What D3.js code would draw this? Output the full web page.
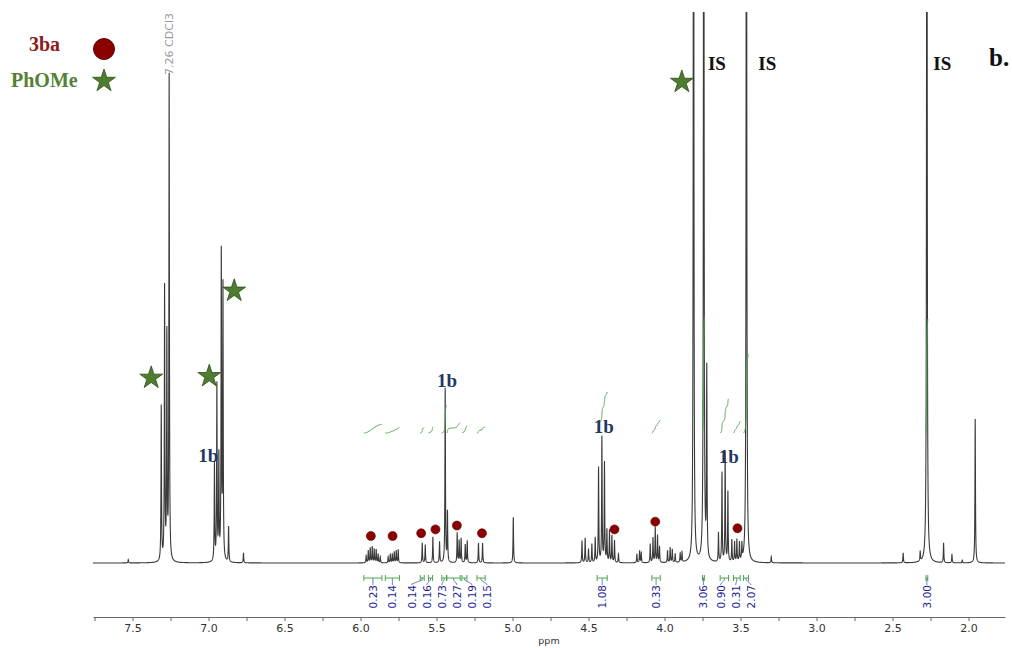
<!DOCTYPE html>
<html>
<head>
<meta charset="utf-8">
<script src="https://cdn.jsdelivr.net/npm/d3@7"></script>
<style>
  body { margin: 0; background: #fff; }
  svg { display: block; }
</style>
</head>
<body>
<svg id="chart" width="1012" height="648"></svg>
<script>
// 1H NMR spectrum (b.) - peak list
// heights: 100 = top of the plotting area (taller peaks are clipped)
const peakPpm = [
  7.528, 7.311, 7.289, 7.274, 7.259, 6.961, 6.945, 6.932, 6.916, 6.905, 6.868, 6.770,
  5.963, 5.949, 5.936, 5.923, 5.910, 5.897, 5.884, 5.870,
  5.818, 5.804, 5.791, 5.778, 5.765, 5.752,
  5.594, 5.574, 5.524, 5.480, 5.443, 5.428,
  5.364, 5.351, 5.338, 5.311, 5.298, 5.224, 5.197, 4.995,
  4.543, 4.522, 4.500, 4.478, 4.456, 4.434, 4.412, 4.395, 4.379, 4.362, 4.346, 4.329, 4.303,
  4.182, 4.164, 4.153, 4.094, 4.076, 4.061, 4.046, 4.033,
  3.980, 3.963, 3.949, 3.930, 3.897, 3.885,
  3.809, 3.742, 3.722,
  3.645, 3.622, 3.601, 3.583, 3.557, 3.539, 3.524, 3.507, 3.491, 3.461, 3.298,
  2.430, 2.318, 2.274, 2.164, 2.109, 2.041, 1.956
];
const peakHeight = [
  0.6, 28.1, 49.5, 40.5, 88.0, 17.6, 31.9, 18.7, 55.5, 49.5, 6.4, 1.8,
  1.3, 2.2, 2.7, 2.9, 2.5, 2.4, 1.6, 1.1,
  1.1, 1.6, 1.5, 2.0, 2.2, 2.4,
  3.6, 3.3, 4.7, 3.8, 31.6, 9.1,
  5.4, 4.0, 4.4, 3.3, 4.0, 3.6, 3.6, 8.3,
  4.0, 4.5, 2.5, 3.4, 4.5, 17.2, 22.7, 18.0, 5.8, 5.8, 4.9, 4.0, 1.6,
  1.6, 2.2, 1.8, 3.4, 4.5, 6.4, 4.9, 2.9,
  2.2, 2.7, 2.4, 1.6, 1.6, 1.8,
  220, 220, 34.0,
  5.3, 16.2, 20.0, 12.7, 4.0, 3.6, 4.0, 3.4, 2.9, 220, 1.1,
  1.8, 1.8, 220, 3.6, 1.5, 0.5, 26.1
];

// integrals: region limits (ppm) and printed values
const integralFrom = [5.978, 5.837, 5.607, 5.553, 5.465, 5.432, 5.333, 5.234, 4.443, 4.083, 3.750, 3.634, 3.546, 3.480, 2.280];
const integralTo   = [5.859, 5.744, 5.581, 5.526, 5.435, 5.344, 5.300, 5.180, 4.377, 4.028, 3.738, 3.579, 3.502, 3.447, 2.268];
const integralValue = ["0.23", "0.14", "0.14", "0.16", "0.73", "0.27", "0.19", "0.15", "1.08", "0.33", "3.06", "0.90", "0.31", "2.07", "3.00"];

// axis ticks
const tickPpm = d3.range(8, 32).map(i => i * 0.25);

// annotation markers (ppm, height level)
const starPpm = [7.377, 6.995, 6.831, 3.886];
const starLevel = [33.6, 33.9, 49.4, 87.3];
const dotPpm = [5.932, 5.789, 5.601, 5.507, 5.366, 5.201, 4.329, 4.061, 3.520];
const dotLevel = [4.9, 4.9, 5.4, 6.1, 6.8, 5.4, 6.1, 7.5, 6.3];
const label1bPpm = [7.002, 5.430, 4.400, 3.577];
const label1bLevel = [18.3, 31.9, 23.6, 18.1];
const labelISPpm = [3.655, 3.324, 2.173];
const labelISLevel = [89.5, 89.5, 89.5];
const solventPpm = 7.26, solventText = "7.26 CDCl3";

const legendNames = ["3ba", "PhOMe"];

// ---- layout
const svg = d3.select("#chart");
const x = d3.scaleLinear().domain([7.76, 1.76]).range([93, 1005]);
const y = d3.scaleLinear().domain([0, 100]).range([563, 12]);
const axisY = 617;
const intBaseY = 433, intPx = 38;
const bracketY = 578;

const dark1b = "#1f3864", starFill = "#4e7d2f", starStroke = "#2c4d17";
const dotFill = "#8b0000", dotStroke = "#5a0000";
const green = "#4aa84a", intText = "#1c1c99";

const gamma = 0.002;
function spec(p) {
  let s = 0;
  for (let i = 0; i < peakPpm.length; i++) {
    const d = p - peakPpm[i];
    s += peakHeight[i] * gamma * gamma / (d * d + gamma * gamma);
  }
  return s;
}

svg.append("defs").append("clipPath").attr("id", "plotclip")
  .append("rect").attr("x", 90).attr("y", 12).attr("width", 920).attr("height", 600);

// spectrum
const pts = d3.range(7.76, 1.76, -0.0004).concat(peakPpm).sort((a, b) => b - a);
svg.append("path")
  .datum(pts)
  .attr("clip-path", "url(#plotclip)")
  .attr("fill", "none")
  .attr("stroke", "#3a3a3a")
  .attr("stroke-width", 1.1)
  .attr("d", d3.line().x(p => x(p)).y(p => y(spec(p))));

// integral curves
integralFrom.forEach((a, i) => {
  const b = integralTo[i];
  const ps = d3.range(a, b, -0.0002).concat([b]);
  const vals = ps.map(spec);
  let acc = 0;
  const cum = vals.map((v, k) => (acc += k ? (v + vals[k - 1]) / 2 : 0));
  const total = acc || 1;
  const rise = +integralValue[i] * intPx;
  svg.append("path")
    .datum(ps.map((p, k) => [x(p), intBaseY - cum[k] / total * rise]))
    .attr("fill", "none")
    .attr("stroke", green)
    .attr("stroke-width", 1)
    .attr("d", d3.line());
});

// integral brackets + labels (labels pushed apart when crowded)
function spreadLabels(centers, gap) {
  let groups = centers.map((c, i) => ({ idx: [i], want: [c], pos: c }));
  let changed = true;
  while (changed) {
    changed = false;
    for (let i = 0; i < groups.length - 1; i++) {
      const g = groups[i], h = groups[i + 1];
      const gEnd = g.pos + (g.idx.length - 1) * gap / 2;
      const hStart = h.pos - (h.idx.length - 1) * gap / 2;
      if (hStart - gEnd < gap) {
        const want = g.want.concat(h.want);
        groups.splice(i, 2, { idx: g.idx.concat(h.idx), want, pos: d3.mean(want) });
        changed = true;
        break;
      }
    }
  }
  const out = [];
  groups.forEach(g => {
    const start = g.pos - (g.idx.length - 1) * gap / 2;
    g.idx.forEach((id, k) => out[id] = start + k * gap);
  });
  return out;
}

const bracketMid = integralFrom.map((a, i) => (x(a) + x(integralTo[i])) / 2);
const labelX = spreadLabels(bracketMid, 15);

const ig = svg.append("g");
integralFrom.forEach((a, i) => {
  const x0 = x(a), x1 = x(integralTo[i]);
  ig.append("path")
    .attr("fill", "none").attr("stroke", green).attr("stroke-width", 1)
    .attr("d", `M${x0},${bracketY - 3}V${bracketY + 3}M${x0},${bracketY}H${x1}M${x1},${bracketY - 3}V${bracketY + 3}`);
  ig.append("path")
    .attr("fill", "none").attr("stroke", "#5566aa").attr("stroke-width", 0.8)
    .attr("d", `M${bracketMid[i]},${bracketY}L${bracketMid[i]},${bracketY + 2}L${labelX[i]},${bracketY + 6}L${labelX[i]},${bracketY + 7}`);
  ig.append("text")
    .attr("transform", `translate(${labelX[i]},${bracketY + 7}) rotate(-90)`)
    .attr("text-anchor", "end")
    .attr("dy", "0.36em")
    .style("font-family", "'DejaVu Sans', Verdana, sans-serif")
    .style("font-size", "10.5px")
    .attr("fill", intText)
    .text(integralValue[i]);
});

// x axis
const axis = svg.append("g")
  .attr("transform", `translate(0,${axisY})`)
  .call(d3.axisBottom(x)
    .tickValues(tickPpm)
    .tickSizeInner(4)
    .tickSizeOuter(0)
    .tickFormat(d => (Math.round(d * 4) % 2 === 0 ? d3.format(".1f")(d) : "")));
axis.select(".domain").attr("stroke", "#666");
axis.selectAll(".tick line").attr("stroke", "#666");
axis.selectAll(".tick text")
  .attr("fill", "#333")
  .style("font-family", "'DejaVu Sans', Verdana, sans-serif")
  .style("font-size", "11px");

svg.append("text")
  .attr("x", (x.range()[0] + x.range()[1]) / 2)
  .attr("y", 644)
  .attr("text-anchor", "middle")
  .style("font-family", "'DejaVu Sans', Verdana, sans-serif")
  .style("font-size", "9.5px")
  .attr("fill", "#333")
  .text("ppm");

// solvent label
svg.append("text")
  .attr("transform", `translate(${x(solventPpm)},13) rotate(-90)`)
  .attr("text-anchor", "end")
  .attr("dy", "0.36em")
  .style("font-family", "'DejaVu Sans', sans-serif")
  .style("font-size", "11px")
  .attr("fill", "#9a9a9a")
  .text(solventText);

// markers
const star = d3.symbol().type(d3.symbolStar).size(144 / 0.8908);
svg.selectAll(".star")
  .data(starPpm)
  .enter().append("path")
  .attr("class", "star")
  .attr("transform", (d, i) => `translate(${x(d)},${y(starLevel[i])})`)
  .attr("d", star)
  .attr("fill", starFill)
  .attr("stroke", starStroke)
  .attr("stroke-width", 0.8);

svg.selectAll(".dot")
  .data(dotPpm)
  .enter().append("circle")
  .attr("class", "dot")
  .attr("cx", d => x(d))
  .attr("cy", (d, i) => y(dotLevel[i]))
  .attr("r", 4.5)
  .attr("fill", dotFill)
  .attr("stroke", dotStroke)
  .attr("stroke-width", 0.6);

const serif = "'Liberation Serif', 'Times New Roman', serif";
svg.selectAll(".lab1b")
  .data(label1bPpm)
  .enter().append("text")
  .attr("x", d => x(d))
  .attr("y", (d, i) => y(label1bLevel[i]))
  .attr("text-anchor", "middle")
  .style("font-family", serif)
  .style("font-weight", "bold")
  .style("font-size", "19px")
  .attr("fill", dark1b)
  .text("1b");

svg.selectAll(".labIS")
  .data(labelISPpm)
  .enter().append("text")
  .attr("x", d => x(d))
  .attr("y", (d, i) => y(labelISLevel[i]))
  .attr("text-anchor", "middle")
  .style("font-family", serif)
  .style("font-weight", "bold")
  .style("font-size", "19px")
  .attr("fill", "#111")
  .text("IS");

svg.append("text")
  .attr("x", 989).attr("y", 66)
  .style("font-family", serif)
  .style("font-weight", "bold")
  .style("font-size", "25px")
  .attr("fill", "#111")
  .text("b.");

// legend
const legend = svg.append("g");
legend.append("text")
  .attr("x", 29).attr("y", 51)
  .style("font-family", serif).style("font-weight", "bold").style("font-size", "20px")
  .attr("fill", "#8e1b1b")
  .text(legendNames[0]);
legend.append("circle")
  .attr("cx", 104).attr("cy", 49).attr("r", 10.5)
  .attr("fill", dotFill).attr("stroke", dotStroke).attr("stroke-width", 1);
legend.append("text")
  .attr("x", 11).attr("y", 87)
  .style("font-family", serif).style("font-weight", "bold").style("font-size", "20px")
  .attr("fill", "#538135")
  .text(legendNames[1]);
legend.append("path")
  .attr("transform", "translate(104,81)")
  .attr("d", star)
  .attr("fill", starFill).attr("stroke", starStroke).attr("stroke-width", 0.8);
</script>
</body>
</html>
